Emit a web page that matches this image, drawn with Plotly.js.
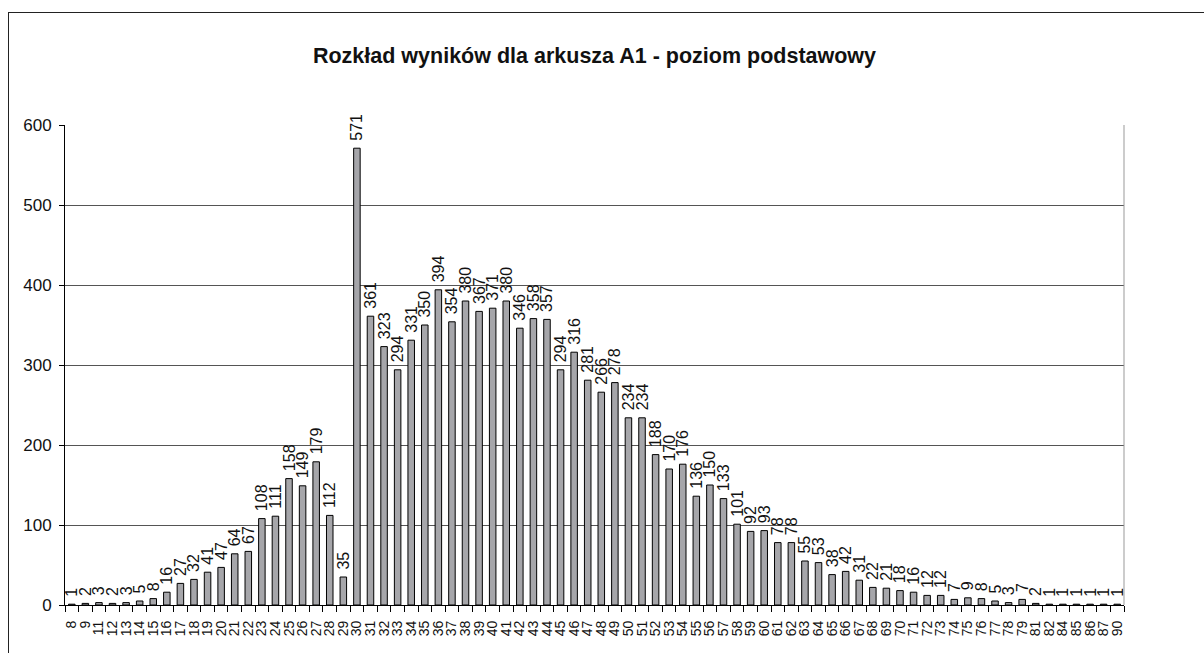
<!DOCTYPE html>
<html>
<head>
<meta charset="utf-8">
<script src="https://cdn.plot.ly/plotly-3.0.1.min.js"></script>
<style>
html,body{margin:0;padding:0;background:#fff;overflow:hidden;width:1204px;height:653px;}
#frame{position:absolute;left:8px;top:12px;width:1300px;height:800px;border:1.5px solid #222;box-sizing:border-box;}
#chart{position:absolute;left:0;top:0;width:1204px;height:653px;}
</style>
</head>
<body>
<div id="frame"></div>
<div id="chart"></div>
<script>
// Score categories (points) as labelled on the x axis
const scores = ["8","9","11","12","13","14","15","16","17","18","19","20","21","22","23","24","25","26","27","28","29","30",
  "31","32","33","34","35","36","37","38","39","40","41","42","43","44",
  "45","46","47","48","49","50","51","52","53","54","55","56","57","58","59","60","61","62",
  "63","64","65","66","67","68","69","70","71","72","73","74","75","76","77","78","79",
  "81","82","84","85","86","87","90"];
// Number of students per score
const counts = [1,2,3,2,3,5,8,16,27,32,41,47,64,67,108,111,158,149,179,112,35,571,
  361,323,294,331,350,394,354,380,367,371,380,346,358,357,
  294,316,281,266,278,234,234,188,170,176,136,150,133,101,92,93,78,78,
  55,53,38,42,31,22,21,18,16,12,12,7,9,8,5,3,7,
  2,1,1,1,1,1,1];
const yTicks = [0,100,200,300,400,500,600];
const titleText = "Rozkład wyników dla arkusza A1 - poziom podstawowy";

const FONT = "'Liberation Sans', Arial, sans-serif";

const trace = {
  type: "bar",
  x: scores,
  y: counts,
  text: counts.map(v => "\u00a0" + v),
  textposition: "outside",
  textangle: -90,
  constraintext: "none",
  cliponaxis: false,
  textfont: {family: FONT, size: 16, color: "#111"},
  marker: {color: "#a6a6aa", line: {color: "#000", width: 1}},
  hoverinfo: "x+y"
};

const L = 65, R = 1124, T = 125, B = 605;
const px = v => (v - L) / (R - L);
const py = v => (B - v) / (B - T);

const layout = {
  width: 1204, height: 653,
  margin: {l: L, r: 1204 - R, t: T, b: 653 - B, pad: 0},
  paper_bgcolor: "rgba(0,0,0,0)",
  plot_bgcolor: "rgba(0,0,0,0)",
  showlegend: false,
  bargap: 0.52,
  font: {family: FONT, color: "#111"},
  title: {
    text: "<b>" + titleText + "</b>",
    font: {family: FONT, size: 21.5, color: "#111"},
    x: 0.5, xref: "paper", xanchor: "center",
    y: 1 - 55 / 653, yref: "container", yanchor: "middle"
  },
  xaxis: {
    type: "category",
    tickmode: "linear", tick0: 0, dtick: 1,
    tickson: "boundaries",
    ticks: "outside", ticklen: 6, tickcolor: "#000", tickwidth: 1,
    tickangle: -90,
    tickfont: {family: FONT, size: 14, color: "#111"},
    showline: true, linecolor: "#000", linewidth: 1,
    showgrid: false, zeroline: false,
    ticklabelstandoff: 9
  },
  yaxis: {
    range: [0, 600],
    tickvals: yTicks,
    ticks: "outside", ticklen: 5, tickcolor: "#000", tickwidth: 1,
    tickfont: {family: FONT, size: 17, color: "#111"},
    showline: true, linecolor: "#000", linewidth: 1,
    showgrid: true, gridcolor: "#555", gridwidth: 1,
    zeroline: false,
    ticklabelstandoff: 4
  },
  shapes: [
    {type: "line", xref: "paper", yref: "paper", x0: 1, x1: 1, y0: 0, y1: 1,
     line: {color: "#999", width: 1}}
  ],
  annotations: [
    {text: "<b>y</b>", xref: "paper", yref: "paper", x: px(2), y: py(-4),
     xanchor: "left", yanchor: "bottom", showarrow: false,
     font: {family: FONT, size: 22, color: "#111"}}
  ]
};

Plotly.newPlot("chart", [trace], layout, {displayModeBar: false, staticPlot: true});
</script>
</body>
</html>
